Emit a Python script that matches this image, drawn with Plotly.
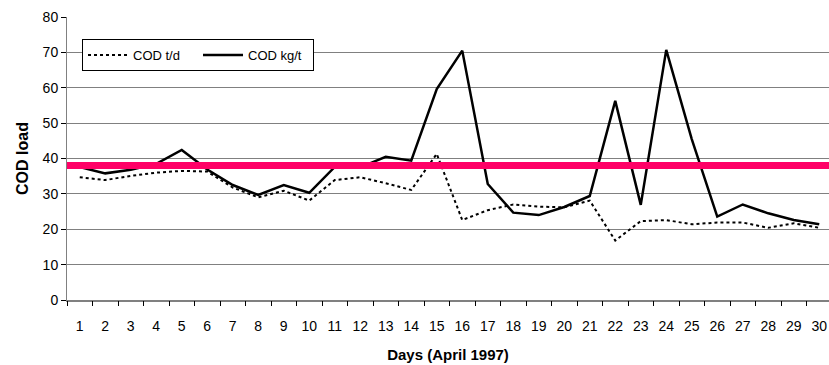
import plotly.graph_objects as go

days = list(range(1, 31))
day_labels = [str(d) for d in days]
cod_td = [34.7, 33.9, 35.1, 36.0, 36.5, 36.3, 31.8, 29.0, 30.9, 28.1,
          33.9, 34.7, 33.0, 31.1, 41.3, 22.6, 25.4, 27.0, 26.4, 26.2,
          28.1, 16.8, 22.3, 22.6, 21.4, 21.9, 21.9, 20.4, 21.7, 20.4]
cod_kgt = [37.6, 35.8, 36.8, 38.5, 42.4, 36.9, 32.5, 29.7, 32.5, 30.3,
           37.6, 37.5, 40.5, 39.4, 59.6, 70.5, 32.8, 24.7, 24.0, 26.3,
           29.4, 56.3, 26.9, 70.7, 45.5, 23.6, 27.0, 24.5, 22.6, 21.4]
limit = 38
y_ticks = [0, 10, 20, 30, 40, 50, 60, 70, 80]

FONT = "Arial, Liberation Sans, sans-serif"
xr = [0.5, 0.5 + 762 / 25.5]

fig = go.Figure()
fig.add_trace(go.Scatter(x=days, y=cod_td, mode="lines", name="COD t/d",
                         line=dict(color="black", width=2, dash="dot")))
fig.add_trace(go.Scatter(x=days, y=cod_kgt, mode="lines", name="COD kg/t",
                         line=dict(color="black", width=2.5)))
# invisible trace carrying the between-category tick marks axis
fig.add_trace(go.Scatter(x=[days[0]], y=[cod_kgt[0]], xaxis="x2", mode="markers",
                         marker=dict(opacity=0), showlegend=False, hoverinfo="skip"))

fig.add_shape(type="line", xref="paper", x0=0, x1=1, yref="y", y0=limit, y1=limit,
              line=dict(color="#FF0066", width=7), layer="above")

fig.update_layout(
    width=829, height=365,
    margin=dict(l=67, r=0, t=17, b=65),
    paper_bgcolor="white", plot_bgcolor="white",
    font=dict(family=FONT, size=14, color="black"),
    showlegend=True,
    legend=dict(orientation="h", x=0.0197, y=0.922, xanchor="left", yanchor="top",
                bordercolor="black", borderwidth=1, bgcolor="white",
                font=dict(family=FONT, size=13, color="black"),
                itemwidth=40, entrywidth=60, tracegroupgap=0),
    xaxis=dict(range=xr, tickmode="array", tickvals=days, ticktext=day_labels,
               ticks="", showgrid=False, zeroline=False,
               showline=True, linecolor="#808080", linewidth=2,
               ticklabelstandoff=12, tickfont=dict(size=14),
               title=dict(text="<b>Days (April 1997)</b>", standoff=17,
                          font=dict(family=FONT, size=15))),
    xaxis2=dict(range=xr, overlaying="x", side="bottom", tickmode="array",
                tickvals=[d + 0.5 for d in [0] + days], ticks="outside", ticklen=5,
                tickcolor="black", tickwidth=1, showticklabels=False,
                showgrid=False, zeroline=False, showline=False),
    yaxis=dict(range=[0, 80], tickmode="array", tickvals=y_ticks,
               ticks="outside", ticklen=5, tickcolor="black", tickfont=dict(size=14),
               showgrid=True, gridcolor="#808080", gridwidth=1,
               zeroline=False, showline=True, linecolor="#808080", linewidth=1,
               title=dict(text="<b>COD load</b>", standoff=10,
                          font=dict(family=FONT, size=16))),
)

fig.write_html("out.html")
